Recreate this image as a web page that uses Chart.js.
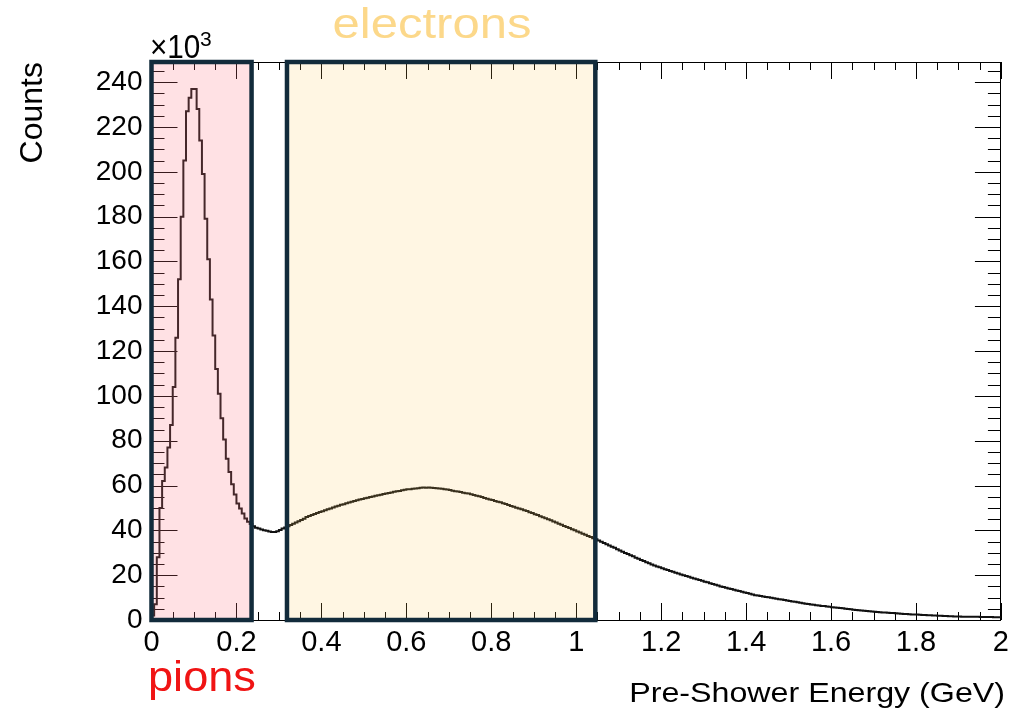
<!DOCTYPE html>
<html>
<head>
<meta charset="utf-8">
<script src="https://cdn.jsdelivr.net/npm/chart.js@4.4.0/dist/chart.umd.min.js"></script>
<style>
    html, body { margin: 0; padding: 0; background: #fff; }
    #wrap { width: 1015px; height: 717px; }
</style>
</head>
<body>
<div id="wrap"><canvas id="showerChart" width="1015" height="717"></canvas></div>
<script>
// histogram bins, counts are in units of 10^3
const binWidth = 0.00625;
const counts = [
    2, 7, 28, 50, 62, 68, 77, 87, 104, 126,
    152, 180, 205, 227, 233, 237, 237, 228, 214, 199,
    179, 161, 143, 127, 112, 101, 90, 80.5, 72, 66,
    60.6, 56, 52, 49.8, 47.5, 45.3, 43.8, 42.8, 41.8, 41.2,
    40.8, 40.4, 40.1, 39.8, 39.5, 39.3, 39.3, 39.6, 40.2, 40.8,
    41.3, 41.8, 42.4, 43.0, 43.5, 44.1, 44.6, 45.2, 46.0, 46.4,
    46.8, 47.3, 47.7, 48.2, 48.5, 49.0, 49.4, 49.8, 50.2, 50.6,
    51.0, 51.4, 51.7, 52.1, 52.4, 52.8, 53.1, 53.4, 53.8, 54.0,
    54.3, 54.6, 54.9, 55.1, 55.4, 55.7, 55.9, 56.2, 56.4, 56.7,
    56.9, 57.2, 57.4, 57.6, 57.9, 58.1, 58.3, 58.4, 58.6, 58.7,
    58.8, 59.0, 59.1, 59.0, 59.1, 59.0, 58.9, 58.8, 58.7, 58.6,
    58.4, 58.2, 58.0, 57.7, 57.5, 57.3, 57.1, 56.8, 56.6, 56.4,
    56.1, 55.8, 55.5, 55.2, 54.9, 54.4, 54.1, 53.8, 53.5, 53.1,
    52.8, 52.5, 52.1, 51.8, 51.3, 50.9, 50.5, 50.1, 49.8, 49.4,
    49.0, 48.6, 48.1, 47.7, 47.2, 46.8, 46.3, 45.9, 45.4, 45.0,
    44.5, 44.0, 43.5, 43.0, 42.5, 42.0, 41.5, 41.0, 40.5, 40.0,
    39.5, 39.0, 38.5, 38.0, 37.5, 37.0, 36.5, 36.0, 35.5, 34.9,
    34.4, 33.8, 33.3, 32.7, 32.2, 31.6, 31.0, 30.4, 29.9, 29.4,
    28.9, 28.4, 27.8, 27.3, 26.8, 26.3, 25.8, 25.3, 24.8, 24.3,
    23.9, 23.5, 23.1, 22.7, 22.3, 21.9, 21.5, 21.1, 20.7, 20.3,
    20.0, 19.6, 19.3, 18.9, 18.5, 18.2, 17.8, 17.5, 17.1, 16.8,
    16.4, 16.1, 15.7, 15.4, 15.0, 14.7, 14.4, 14.1, 13.8, 13.5,
    13.2, 12.9, 12.6, 12.3, 12.0, 11.7, 11.4, 11.1, 10.9, 10.7,
    10.5, 10.3, 10.1, 9.9, 9.7, 9.5, 9.3, 9.1, 8.9, 8.7,
    8.5, 8.3, 8.1, 7.9, 7.7, 7.5, 7.3, 7.1, 6.9, 6.8,
    6.6, 6.5, 6.3, 6.2, 6.0, 5.9, 5.7, 5.6, 5.5, 5.3,
    5.2, 5.0, 4.9, 4.8, 4.6, 4.5, 4.4, 4.2, 4.1, 4.0,
    3.9, 3.8, 3.7, 3.6, 3.5, 3.4, 3.3, 3.2, 3.1, 3.1,
    3.0, 2.9, 2.8, 2.7, 2.7, 2.6, 2.5, 2.4, 2.4, 2.3,
    2.2, 2.2, 2.1, 2.1, 2.0, 2.0, 1.9, 1.9, 1.8, 1.8,
    1.7, 1.7, 1.6, 1.6, 1.6, 1.5, 1.5, 1.5, 1.4, 1.4,
    1.4, 1.4, 1.3, 1.3, 1.3, 1.3, 1.3, 1.2, 1.2, 1.2
];
const xTicks = [0, 0.2, 0.4, 0.6, 0.8, 1, 1.2, 1.4, 1.6, 1.8, 2];
const yTicks = [0, 20, 40, 60, 80, 100, 120, 140, 160, 180, 200, 220, 240];
const xMinorStep = 0.05;
const yMinorStep = 5;
const xMax = 2;
const yMax = 249;
const pionsCut = [0, 0.2356];
const electronsCut = [0.319, 1.045];

const FONT = "'Liberation Sans', Arial, Helvetica, sans-serif";

function buildHistPoints() {
    let pts = [];
    for (let i = 0; i < counts.length; i++) {
        pts.push({ x: i * binWidth, y: counts[i] });
    }
    pts.push({ x: counts.length * binWidth, y: counts[counts.length - 1] });
    return pts;
}

function stretchText(ctx, str, x, y, size, color, align, sx) {
    ctx.save();
    ctx.font = `${size}px ${FONT}`;
    ctx.fillStyle = color;
    ctx.textBaseline = 'alphabetic';
    let w = ctx.measureText(str).width * sx;
    let left = x;
    if (align === 'center') left = x - w / 2;
    if (align === 'right') left = x - w;
    ctx.translate(left, y);
    ctx.scale(sx, 1);
    ctx.textAlign = 'left';
    ctx.fillText(str, 0, 0);
    ctx.restore();
}

const rootFrame = {
    id: 'rootFrame',
    beforeDatasetsDraw(chart) {
        const { ctx, chartArea: a, scales: { x, y } } = chart;
        ctx.save();
        ctx.strokeStyle = '#000';
        ctx.lineWidth = 1;
        ctx.beginPath();
        // x ticks, bottom and top
        for (let k = 0; k * xMinorStep <= xMax + 1e-9; k++) {
            const v = k * xMinorStep;
            const px = Math.round(x.getPixelForValue(v)) + 0.5;
            const major = k % 4 === 0;
            const len = major ? 17 : 8;
            ctx.moveTo(px, a.bottom); ctx.lineTo(px, a.bottom - len);
            ctx.moveTo(px, a.top); ctx.lineTo(px, a.top + len);
        }
        // y ticks, left and right
        for (let k = 0; k * yMinorStep <= yMax; k++) {
            const v = k * yMinorStep;
            const py = Math.round(y.getPixelForValue(v)) + 0.5;
            const major = k % 4 === 0;
            const len = major ? 26 : 13;
            ctx.moveTo(a.left, py); ctx.lineTo(a.left + len, py);
            ctx.moveTo(a.right, py); ctx.lineTo(a.right - len, py);
        }
        ctx.stroke();
        ctx.strokeRect(Math.round(a.left) + 0.5, Math.round(a.top) + 0.5,
            Math.round(a.right - a.left) - 1, Math.round(a.bottom - a.top));
        ctx.restore();
    },
    afterDatasetsDraw(chart) {
        const { ctx, scales: { x, y } } = chart;
        const top = y.getPixelForValue(yMax);
        const bottom = y.getPixelForValue(0);
        const boxes = [
            { range: pionsCut, fill: 'rgba(255, 120, 130, 0.22)' },
            { range: electronsCut, fill: 'rgba(255, 200, 90, 0.17)' }
        ];
        ctx.save();
        boxes.forEach(b => {
            const l = x.getPixelForValue(b.range[0]);
            const r = x.getPixelForValue(b.range[1]);
            ctx.fillStyle = b.fill;
            ctx.fillRect(l, top, r - l, bottom - top);
            ctx.strokeStyle = '#122b3b';
            ctx.lineWidth = 4.5;
            ctx.strokeRect(l, top, r - l, bottom - top);
        });
        ctx.restore();
    },
    afterDraw(chart) {
        const { ctx } = chart;
        // axis titles
        stretchText(ctx, 'Pre-Shower Energy (GeV)', 1005, 702, 28, '#000', 'right', 1.15);
        ctx.save();
        ctx.translate(42, 62);
        ctx.rotate(-Math.PI / 2);
        ctx.font = `32px ${FONT}`;
        ctx.fillStyle = '#000';
        ctx.textAlign = 'right';
        ctx.fillText('Counts', 0, 0);
        ctx.restore();
        // exponent
        stretchText(ctx, '\u00d710', 150, 58, 33, '#000', 'left', 0.9);
        stretchText(ctx, '3', 200, 46, 21, '#000', 'left', 1);
        // region labels
        stretchText(ctx, 'electrons', 432, 38, 43, '#fcd88a', 'center', 1.14);
        stretchText(ctx, 'pions', 148, 691, 43, '#f01414', 'left', 1.05);
    }
};

const ctx = document.getElementById('showerChart').getContext('2d');
const showerChart = new Chart(ctx, {
    type: 'line',
    data: {
        datasets: [{
            data: buildHistPoints(),
            stepped: 'before',
            borderColor: '#111',
            borderWidth: 2,
            pointRadius: 0,
            fill: false
        }]
    },
    options: {
        responsive: false,
        devicePixelRatio: 1,
        animation: false,
        layout: { padding: { top: 62, right: 10, left: 0, bottom: 0 } },
        plugins: { legend: { display: false }, tooltip: { enabled: false } },
        scales: {
            x: {
                type: 'linear',
                min: 0,
                max: xMax,
                grid: { display: false, drawTicks: false },
                border: { display: false },
                afterBuildTicks: s => { s.ticks = xTicks.map(v => ({ value: v })); },
                afterFit: s => { s.height = 97; },
                ticks: {
                    color: '#000',
                    padding: 6,
                    maxRotation: 0,
                    autoSkip: false,
                    font: { family: FONT, size: 29 },
                    callback: v => String(+v.toFixed(1))
                }
            },
            y: {
                type: 'linear',
                min: 0,
                max: yMax,
                grid: { display: false, drawTicks: false },
                border: { display: false },
                afterBuildTicks: s => { s.ticks = yTicks.map(v => ({ value: v })); },
                afterFit: s => { s.width = 151.5; },
                ticks: {
                    color: '#000',
                    padding: 9,
                    autoSkip: false,
                    font: { family: FONT, size: 28 }
                }
            }
        }
    },
    plugins: [rootFrame]
});
</script>
</body>
</html>
